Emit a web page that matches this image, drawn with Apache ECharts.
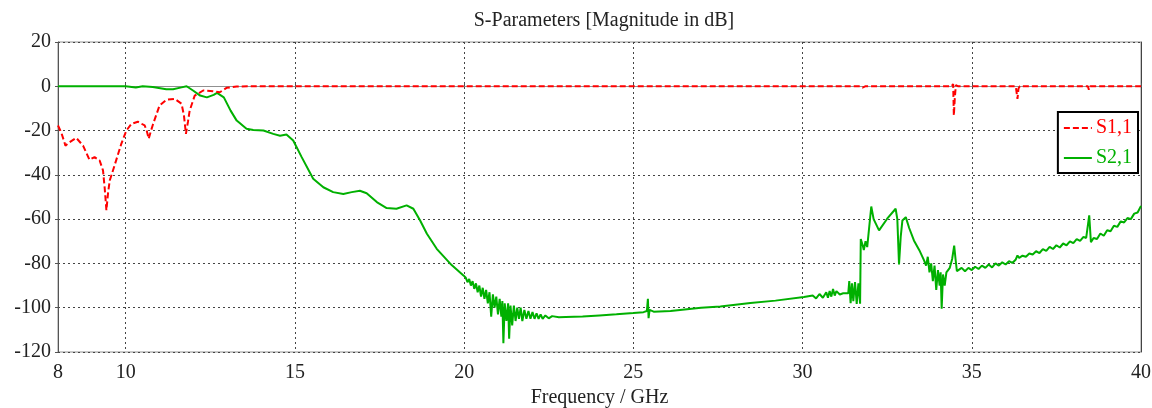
<!DOCTYPE html>
<html><head><meta charset="utf-8">
<script src="https://cdn.jsdelivr.net/npm/echarts@6/dist/echarts.min.js"></script>
<style>html,body{margin:0;padding:0;background:#fff}#c{width:1152px;height:408px}</style>
</head><body><div id="c"></div>
<script>
const xTicks = [8, 10, 15, 20, 25, 30, 35, 40];
const yTicks = [20, 0, -20, -40, -60, -80, -100, -120];

const s11Freq = [8.0,8.1,8.22,8.34,8.54,8.74,8.93,9.08,9.23,9.33,9.38,9.43,9.48,9.53,9.67,9.87,10.02,10.17,10.36,10.56,10.62,10.68,10.74,10.81,11.0,11.2,11.45,11.65,11.72,11.78,11.84,11.89,12.04,12.29,12.58,12.78,12.98,13.28,13.6,31.7,31.77,31.85,32.1,32.15,32.2,34.4,34.45,34.47,34.5,34.53,34.6,36.3,36.33,36.35,36.38,36.42,38.43,38.46,38.5,40];
const s11Db   = [-17.7,-21,-26.8,-25.3,-23.3,-26.8,-33.2,-32,-33.5,-38,-46,-56,-48,-42.5,-35.8,-26,-20,-17,-16,-17.7,-20,-23.7,-20.5,-17,-8.7,-6.1,-5.7,-7.9,-13,-21.5,-16,-11,-4.2,-1.9,-2.2,-2.7,-0.7,-0.1,0,0,-0.6,0,0,-0.5,0,0,1,-13.2,-5,0.5,0,0,0.8,-5.7,-1,0,0,-1.5,0,0];

const s21Freq = [8,10,10.3,10.5,10.8,11.2,11.4,11.65,11.8,12.0,12.2,12.4,12.6,12.7,12.9,13.1,13.28,13.57,13.77,14.07,14.36,14.56,14.75,14.95,15.2,15.54,15.84,16.13,16.43,16.68,16.92,17.12,17.42,17.71,18.0,18.3,18.5,18.7,18.9,19.19,19.59,19.98,
20.05,20.1,20.15,20.2,20.25,20.3,20.35,20.4,20.45,20.5,20.55,20.6,20.65,20.7,20.75,20.8,20.85,20.9,20.95,21.0,21.05,21.1,21.13,21.16,21.2,21.25,21.3,21.33,21.37,21.42,21.47,21.52,21.57,21.62,21.67,21.72,21.78,21.84,21.9,21.96,22.02,22.08,22.14,22.2,22.26,22.32,22.4,22.5,22.6,22.8,23.0,23.5,24.0,24.5,25.0,25.3,25.4,25.43,25.45,25.48,25.6,26.1,27,27.57,28.46,29.2,30.04,
30.3,30.4,30.5,30.6,30.7,30.75,30.8,30.85,30.9,30.95,31.0,31.1,31.2,31.35,31.38,31.42,31.46,31.5,31.55,31.6,31.65,31.7,31.72,31.78,31.81,31.86,31.91,32.03,32.1,32.26,32.5,32.75,32.8,32.85,32.9,32.95,33.05,33.15,33.29,33.45,33.59,
33.65,33.7,33.75,33.8,33.85,33.9,33.95,34.0,34.05,34.08,34.11,34.15,34.2,34.25,34.28,34.35,34.42,34.48,34.52,34.56,34.6,
34.7,34.8,34.9,35.0,35.1,35.2,35.3,35.4,35.5,35.6,35.7,35.8,35.9,36.0,36.1,36.2,36.3,36.35,36.4,36.5,36.6,36.7,36.8,36.9,37.0,37.1,37.2,37.3,37.4,37.5,37.6,37.7,37.8,37.9,38.0,38.1,38.2,38.3,38.38,38.47,38.52,38.6,38.7,38.8,38.9,39.0,39.1,39.2,39.3,39.4,39.5,39.6,39.7,39.8,39.9,40];
const s21Db = [0,0,-0.5,0,-0.3,-1.3,-1.3,-0.5,0,-2,-4.2,-5,-3.9,-3,-5,-11,-15.5,-19.2,-19.7,-20,-21.5,-22.3,-21.8,-24.5,-32,-41.8,-45.6,-47.8,-48.6,-47.8,-47.2,-48.3,-52.3,-55,-55.3,-53.8,-55.3,-60.6,-66.6,-73.4,-80.1,-85.4,
-86.5,-88.5,-87,-90,-88,-91.5,-89,-93,-90,-95,-91,-96,-92,-98,-93,-104,-94,-100,-95,-103,-96,-104,-97,-116,-98,-106,-98,-114,-99,-108,-99,-106,-100,-105,-100,-106,-101,-105,-101.5,-105,-102,-105,-102.5,-105,-103,-105,-103.5,-104.8,-103.8,-104.3,-104.2,-104,-103.5,-103,-102.4,-102,-101.5,-96,-104.7,-101,-101.8,-101.5,-100,-99.5,-97.9,-96.8,-95.2,
-94.5,-95.8,-93.8,-95.5,-93,-95.5,-92.5,-95,-91.5,-94.5,-92.5,-94,-93.5,-93.5,-88,-98,-89,-97,-88.4,-98.3,-89,-98.2,-69,-72,-74,-70,-72.6,-54.3,-60,-65.1,-59.8,-55.3,-60,-80.5,-68,-60.6,-59.1,-64,-69.6,-74,-78.6,
-81,-77,-84,-80,-88,-81,-92,-83,-90,-84,-100.4,-85,-90,-84,-83.2,-82,-78,-72,-78,-83.5,-82.8,
-82,-83.5,-82,-83,-81.5,-82.5,-81,-82,-80.5,-81.8,-80,-81,-79.5,-80.5,-79,-79.8,-78.2,-76.4,-77.5,-76.5,-77,-75.5,-76,-74.5,-75.3,-73.5,-74.3,-72.5,-73.5,-71.8,-72.8,-71,-71.8,-70,-70.8,-69,-69.8,-68,-68.5,-58.3,-70.4,-68.5,-69,-66.5,-67.5,-65,-65.5,-63,-63.5,-61,-61.5,-59.5,-60,-57.5,-57,-54];

const s11 = s11Freq.map((f, i) => [f, s11Db[i]]);
const s21 = s21Freq.map((f, i) => [f, s21Db[i]]);

const FONT = '"Liberation Serif", "DejaVu Serif", serif';
const chart = echarts.init(document.getElementById('c'), null, {renderer: 'canvas'});
chart.setOption({
  animation: false,
  backgroundColor: '#fff',
  title: {
    text: 'S-Parameters [Magnitude in dB]',
    left: 599, top: 6, textAlign: 'center',
    textStyle: {fontFamily: FONT, fontSize: 20, fontWeight: 'normal', color: '#222'}
  },
  grid: {left: 58, right: 11, top: 42, bottom: 56, show: true, borderColor: '#909090', borderWidth: 1,
         backgroundColor: 'transparent', outerBoundsMode: 'none', containLabel: false},
  xAxis: {
    type: 'value', min: 8, max: 40,
    name: 'Frequency / GHz', nameLocation: 'middle', nameGap: 36,
    nameTextStyle: {fontFamily: FONT, fontSize: 20, color: '#222'},
    axisLine: {lineStyle: {color: '#909090', width: 1}},
    axisTick: {show: true, length: 3, inside: true, customValues: xTicks, lineStyle: {color: '#555'}},
    axisLabel: {customValues: xTicks, fontFamily: FONT, fontSize: 20, color: '#222', margin: 11},
    splitLine: {show: true, customValues: xTicks, lineStyle: {color: '#444', type: [2, 3], width: 1}}
  },
  yAxis: [{
    type: 'value', min: -120, max: 20, interval: 20,
    axisLine: {show: true, lineStyle: {color: '#555', width: 1}},
    axisTick: {show: true, length: 3, lineStyle: {color: '#555'}},
    axisLabel: {fontFamily: FONT, fontSize: 20, color: '#222', margin: 7, padding: [3, 0, 0, 0]},
    splitLine: {show: true, lineStyle: {color: '#444', type: [2, 3], width: 1}}
  }, {
    type: 'value', min: -120, max: 20, interval: 20, position: 'right',
    axisLine: {show: true, lineStyle: {color: '#444', width: 1}},
    axisTick: {show: false}, axisLabel: {show: false}, splitLine: {show: false}
  }],
  legend: {
    orient: 'vertical', right: 14, top: 112,
    itemWidth: 28, itemHeight: 20, itemGap: 10,
    padding: [6, 6, 5, 5],
    borderColor: '#000', borderWidth: 2, backgroundColor: '#fff',
    itemStyle: {opacity: 0},
    data: [
      {name: 'S1,1', textStyle: {color: '#ff0000'}},
      {name: 'S2,1', textStyle: {color: '#00b000'}}
    ],
    textStyle: {fontFamily: FONT, fontSize: 20, padding: [0, 0, 0, -1]}
  },
  series: [
    {name: 'S2,1', type: 'line', data: s21, showSymbol: false, symbol: 'none',
     lineStyle: {color: '#00b000', width: 2}, itemStyle: {color: '#00b000'}, z: 2},
    {name: 'S1,1', type: 'line', data: s11, showSymbol: false, symbol: 'none',
     lineStyle: {color: '#ff0000', width: 2, type: [6, 3]}, itemStyle: {color: '#ff0000'}, z: 3}
  ]
});
</script></body></html>
